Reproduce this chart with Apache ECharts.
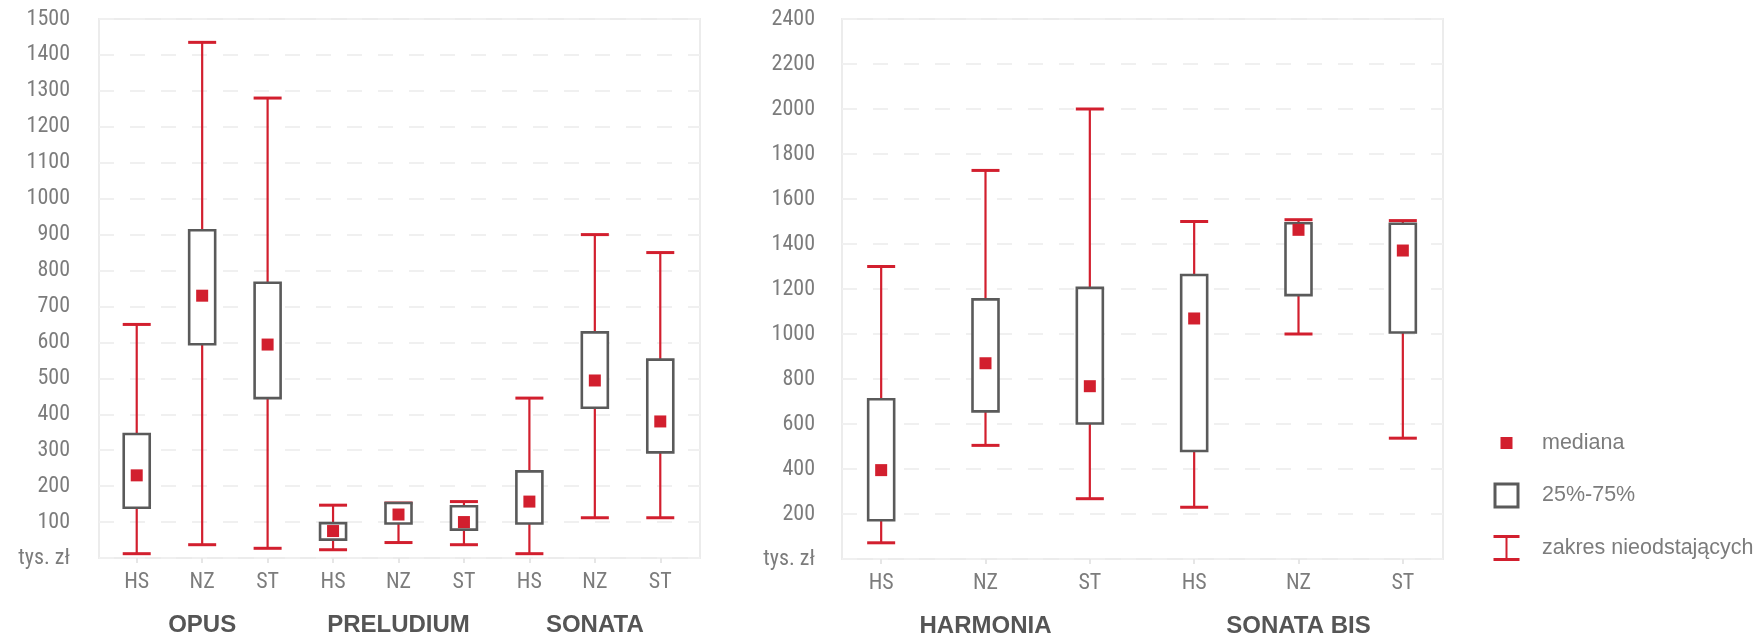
<!DOCTYPE html>
<html>
<head>
<meta charset="utf-8">
<script src="https://cdn.jsdelivr.net/npm/echarts@6/dist/echarts.min.js"></script>
<style>
  html, body { margin: 0; padding: 0; background: #ffffff; }
  #chart { width: 1760px; height: 636px; }
</style>
</head>
<body>
<div id="chart"></div>
<script>
// ---------- DATA ----------
const leftCategories = ['HS', 'NZ', 'ST', 'HS', 'NZ', 'ST', 'HS', 'NZ', 'ST'];
const leftGroups = ['OPUS', 'PRELUDIUM', 'SONATA'];
const leftWhiskerLow  = [12, 37, 27, 23, 43, 37, 12, 112, 112];
const leftQ1          = [140, 595, 445, 51, 96, 79, 96, 418, 294];
const leftMedian      = [230, 730, 594, 75, 121, 100, 157, 494, 380];
const leftQ3          = [345, 912, 766, 97, 153, 144, 241, 628, 552];
const leftWhiskerHigh = [650, 1435, 1280, 147, 153, 157, 445, 900, 850];

const rightCategories = ['HS', 'NZ', 'ST', 'HS', 'NZ', 'ST'];
const rightGroups = ['HARMONIA', 'SONATA BIS'];
const rightWhiskerLow  = [72, 505, 268, 230, 1000, 537];
const rightQ1          = [172, 656, 602, 480, 1173, 1007];
const rightMedian      = [395, 870, 768, 1069, 1463, 1371];
const rightQ3          = [710, 1154, 1205, 1262, 1492, 1490];
const rightWhiskerHigh = [1300, 1727, 2000, 1500, 1508, 1504];

const leftYMax = 1500, leftYStep = 100;
const rightYMax = 2400, rightYStep = 200;
const zeroLabel = 'tys. zł';

const seriesNames = ['mediana', '25%-75%', 'zakres nieodstających'];

// ---------- STYLE ----------
const RED = '#d21f2e';
const BOX = '#5a5a5a';
const LABEL = '#7c7c7c';
const FRAME = '#ececec';
const FONT = "'Liberation Sans', 'Roboto', sans-serif";
const NARROW = "'Liberation Sans Narrow', 'Roboto Condensed', 'Liberation Sans', sans-serif";

function whiskerSeries(gridIdx, low, high) {
  return {
    name: seriesNames[2], type: 'custom', xAxisIndex: gridIdx * 2, yAxisIndex: gridIdx,
    itemStyle: { color: RED }, z: 2,
    data: low.map((v, i) => [i, v, high[i]]),
    renderItem: function (params, api) {
      const i = api.value(0);
      const pLo = api.coord([i, api.value(1)]);
      const pHi = api.coord([i, api.value(2)]);
      const hw = 14;
      return {
        type: 'group', children: [
          { type: 'line', shape: { x1: pLo[0], y1: pLo[1], x2: pHi[0], y2: pHi[1] }, style: { stroke: RED, lineWidth: 2.2 } },
          { type: 'line', shape: { x1: pLo[0] - hw, y1: pLo[1], x2: pLo[0] + hw, y2: pLo[1] }, style: { stroke: RED, lineWidth: 3 } },
          { type: 'line', shape: { x1: pHi[0] - hw, y1: pHi[1], x2: pHi[0] + hw, y2: pHi[1] }, style: { stroke: RED, lineWidth: 3 } }
        ]
      };
    }
  };
}

function boxSeries(gridIdx, q1, q3) {
  return {
    name: seriesNames[1], type: 'custom', xAxisIndex: gridIdx * 2, yAxisIndex: gridIdx,
    itemStyle: { color: BOX }, z: 3,
    data: q1.map((v, i) => [i, v, q3[i]]),
    renderItem: function (params, api) {
      const i = api.value(0);
      const pLo = api.coord([i, api.value(1)]);
      const pHi = api.coord([i, api.value(2)]);
      const hw = 13;
      return {
        type: 'rect',
        shape: { x: pLo[0] - hw, y: pHi[1], width: hw * 2, height: pLo[1] - pHi[1] },
        style: { fill: '#ffffff', stroke: BOX, lineWidth: 2.6 }
      };
    }
  };
}

function medianSeries(gridIdx, med) {
  return {
    name: seriesNames[0], type: 'scatter', xAxisIndex: gridIdx * 2, yAxisIndex: gridIdx,
    symbol: 'rect', symbolSize: [12, 12], itemStyle: { color: RED, opacity: 1 }, z: 4,
    data: med.map((v, i) => [i, v])
  };
}

function catAxis(gridIdx, cats) {
  return {
    type: 'category', gridIndex: gridIdx, data: cats, boundaryGap: true,
    axisLine: { show: false },
    axisTick: { show: true, alignWithLabel: true, length: 5, lineStyle: { color: '#e6e6e6', width: 2 } },
    axisLabel: { color: LABEL, fontFamily: NARROW, fontSize: 22, margin: 13 },
    splitLine: { show: false }
  };
}
function groupAxis(gridIdx, groups) {
  return {
    type: 'category', gridIndex: gridIdx, data: groups, position: 'bottom',
    axisLine: { show: false }, axisTick: { show: false },
    axisLabel: { color: '#555555', fontFamily: FONT, fontWeight: 'bold', fontSize: 24, margin: 55 },
    splitLine: { show: false }
  };
}
// hidden x axis for the frame grids
function frameXAxis(gridIdx) {
  return { type: 'value', gridIndex: gridIdx, min: 0, max: 1, show: false };
}
function valAxis(gridIdx, max, step, margin) {
  return {
    type: 'value', gridIndex: gridIdx, min: 0, max: max, interval: step,
    axisLine: { show: false }, axisTick: { show: false },
    axisLabel: {
      color: LABEL, fontFamily: NARROW, fontSize: 22, margin: margin,
      formatter: v => (v === 0 ? zeroLabel : String(v))
    },
    splitLine: { show: false }
  };
}
function frameYAxis(gridIdx, max, step) {
  return {
    type: 'value', gridIndex: gridIdx, min: 0, max: max, interval: step,
    axisLine: { show: false }, axisTick: { show: false }, axisLabel: { show: false },
    splitLine: { show: true, lineStyle: { color: '#f0f0f0', width: 2, type: [15, 16] } }
  };
}

const chart = echarts.init(document.getElementById('chart'), null, { renderer: 'canvas' });

const option = {
  animation: false,
  backgroundColor: '#ffffff',
  grid: [
    { left: 104, width: 589, top: 19, height: 539, outerBoundsMode: 'none', containLabel: false },
    { left: 829, width: 626, top: 19, height: 540, outerBoundsMode: 'none', containLabel: false },
    { left: 99, width: 601, top: 19, height: 539, outerBoundsMode: 'none', show: true, borderColor: FRAME, borderWidth: 2, backgroundColor: 'transparent' },
    { left: 842, width: 601, top: 19, height: 540, outerBoundsMode: 'none', show: true, borderColor: FRAME, borderWidth: 2, backgroundColor: 'transparent' }
  ],
  xAxis: [
    catAxis(0, leftCategories), groupAxis(0, leftGroups),
    catAxis(1, rightCategories), groupAxis(1, rightGroups),
    frameXAxis(2), frameXAxis(3)
  ],
  yAxis: [
    valAxis(0, leftYMax, leftYStep, 34),
    valAxis(1, rightYMax, rightYStep, 14),
    frameYAxis(2, leftYMax, leftYStep),
    frameYAxis(3, rightYMax, rightYStep)
  ],
  legend: {
    orient: 'vertical', left: 1493.5, top: 430, padding: 0,
    itemWidth: 61, itemHeight: 26, itemGap: 26.5,
    selectedMode: false,
    textStyle: { color: LABEL, fontFamily: FONT, fontSize: 21.5 },
    data: [
      { name: seriesNames[0], icon: 'path://M0,0L0,0M26,26L26,26M7,7H19V19H7Z', itemStyle: { color: RED, borderWidth: 0, opacity: 1 } },
      { name: seriesNames[1], icon: 'path://M0,0H26V26H0ZM3,3V23H23V3Z', itemStyle: { color: BOX, borderWidth: 0 } },
      { name: seriesNames[2], icon: 'path://M0,0H26V3H14V23H26V26H0V23H12V3H0Z', itemStyle: { color: RED, borderWidth: 0 } }
    ]
  },
  series: [
    whiskerSeries(0, leftWhiskerLow, leftWhiskerHigh),
    boxSeries(0, leftQ1, leftQ3),
    medianSeries(0, leftMedian),
    whiskerSeries(1, rightWhiskerLow, rightWhiskerHigh),
    boxSeries(1, rightQ1, rightQ3),
    medianSeries(1, rightMedian)
  ]
};
chart.setOption(option);
</script>
</body>
</html>
